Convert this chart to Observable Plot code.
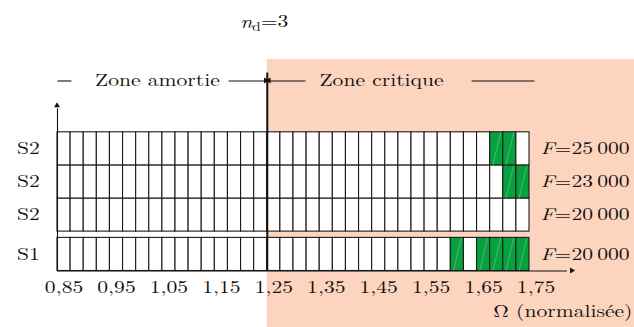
<!DOCTYPE html>
<html><head><meta charset="utf-8">
<script src="https://cdn.jsdelivr.net/npm/d3@7"></script>
<script src="https://cdn.jsdelivr.net/npm/@observablehq/plot@0.6"></script>
<style>
body{margin:0;background:#fff}
</style></head><body><div id="chart"></div>
<script>
// ---------- data ----------
const omega = [0.85,0.875,0.9,0.925,0.95,0.975,1.0,1.025,1.05,1.075,1.1,1.125,1.15,1.175,1.2,1.225,
               1.25,1.275,1.3,1.325,1.35,1.375,1.4,1.425,1.45,1.475,1.5,1.525,1.55,1.575,1.6,1.625,1.65,1.675,1.7,1.725];
const rowSeries = ["S1","S2","S2","S2"];
const rowForce = ["20\u2009000","20\u2009000","23\u2009000","25\u2009000"];
const criticalCells = [[1.6,1.65,1.675,1.7,1.725],[],[1.7,1.725],[1.675,1.7]];
const tickValues = [0.85,0.95,1.05,1.15,1.25,1.35,1.45,1.55,1.65,1.75];
const zoneBoundary = 1.2375;
const nd = 3;
const zoneLabels = ["Zone amortie","Zone critique"];
const axisTitle = "Ω (normalisée)";

// ---------- style / layout ----------
const PINK = "#FDD5BF", GREEN = "#07A23F", INK = "#111";
const FONT = "Latin Modern Roman";
const STRETCH = 1.27;
const half = (omega[1] - omega[0]) / 2;
const gap = 0.19;
const rowBottom = i => i + (i > 0 ? gap : 0);
const x0 = omega[0] - half, xEnd = omega[omega.length - 1] + half;
const yTop = rowBottom(rowSeries.length - 1) + 1;
const ZY = 5.74;

const rows = rowSeries.map((s, i) => ({s, f: rowForce[i], i, yc: rowBottom(i) + 0.5}));
const cells = rows.flatMap(r => omega.map(w => ({
  w, y1: rowBottom(r.i), y2: rowBottom(r.i) + 1, crit: criticalCells[r.i].includes(w)
})));

const segments = [
  {a: x0, b: 0.864},
  {a: 1.1636, b: zoneBoundary - 0.002},
  {a: 1.3104, b: zoneBoundary + 0.004},
  {a: 1.627, b: 1.747}
];
const heads = [
  {x: x0, y: 4.98, rot: 0, dx: 0, dy: 3.6},
  {x: 1.819, y: 0, rot: 90, dx: -3.6, dy: 0},
  {x: zoneBoundary - 0.002, y: ZY, rot: 90, dx: -3.6, dy: 0},
  {x: zoneBoundary + 0.004, y: ZY, rot: -90, dx: 3.6, dy: 0}
];

const plot = Plot.plot({
  width: 634, height: 327,
  marginLeft: 57, marginRight: 105, marginTop: 131.8, marginBottom: 56.5,
  x: {domain: [x0, xEnd]},
  y: {domain: [0, yTop], axis: null},
  style: {fontSize: "17px", background: "white", color: INK},
  marks: [
    Plot.rect([0], {x1: zoneBoundary, x2: 1.96, y1: -1.8, y2: 6.39, fill: PINK}),
    Plot.rect(cells, {x1: d => d.w - half, x2: d => d.w + half, y1: "y1", y2: "y2",
      fill: d => d.crit ? GREEN : "white", stroke: "#1a1a1a", strokeWidth: 1.1}),
    Plot.link(cells.filter(d => d.crit), {x1: d => d.w - half * 0.6, x2: d => d.w + half * 0.6, y1: "y1", y2: "y2",
      stroke: "#bfe8cc", strokeOpacity: 0.5, strokeWidth: 0.7}),
    Plot.ruleX([zoneBoundary], {y1: 0, y2: 5.98, stroke: INK, strokeWidth: 2}),
    Plot.ruleX([x0], {y1: 0, y2: 4.9, stroke: INK, strokeWidth: 1.1}),
    Plot.ruleY([0], {x1: x0, x2: 1.81, stroke: INK, strokeWidth: 1.1}),
    Plot.link(segments, {x1: "a", x2: "b", y1: ZY, y2: ZY, stroke: INK, strokeWidth: 1.1}),
    Plot.dot(heads, {x: "x", y: "y", rotate: "rot", dx: "dx", symbol: "triangle", r: 2.2, fill: INK, stroke: null}),
    Plot.axisX(tickValues, {tickSize: 0, tickPadding: 10, label: null,
      tickFormat: d => d.toFixed(2).replace(".", ",")}),
    Plot.text(rows, {y: "yc", text: "s", frameAnchor: "left", dx: -29, textAnchor: "middle"}),
    Plot.text(rows, {y: "yc", text: d => "F=" + d.f, frameAnchor: "right", dx: 11, textAnchor: "start"}),
    Plot.text([axisTitle], {frameAnchor: "bottom-right", dx: 103, dy: 46, textAnchor: "end"}),
    Plot.text([nd], {x: zoneBoundary, frameAnchor: "top", dx: -3, dy: -116, text: d => "nd=" + d}),
    Plot.text([zoneLabels[0]], {x: 1.028, y: ZY}),
    Plot.text([zoneLabels[1]], {x: 1.4553, y: ZY})
  ]
});
document.getElementById("chart").append(plot);

// fonts, rich text (italic symbols, subscript), horizontal stretch of the LaTeX-like text
const svg = d3.select(plot);
svg.attr("font-family", FONT).style("font-family", FONT);
svg.selectAll("g").attr("font-family", null);
svg.selectAll("text").each(function() {
  const t = this.textContent;
  const sel = d3.select(this);
  sel.attr("font-family", FONT).style("font-family", FONT);
  if (t.startsWith("F=")) {
    sel.text("");
    sel.append("tspan").attr("font-style", "italic").text("F");
    sel.append("tspan").text(t.slice(1));
  } else if (t === "nd=" + nd) {
    sel.text("");
    sel.append("tspan").attr("font-style", "italic").text("n");
    sel.append("tspan").attr("font-size", "12px").attr("dy", "0.25em").text("d");
    sel.append("tspan").attr("dy", "-0.25em").text("=" + nd);
  }
  const tr = sel.attr("transform");
  if (tr) sel.attr("transform", tr + ` scale(${STRETCH},1)`);
});
</script></body></html>
